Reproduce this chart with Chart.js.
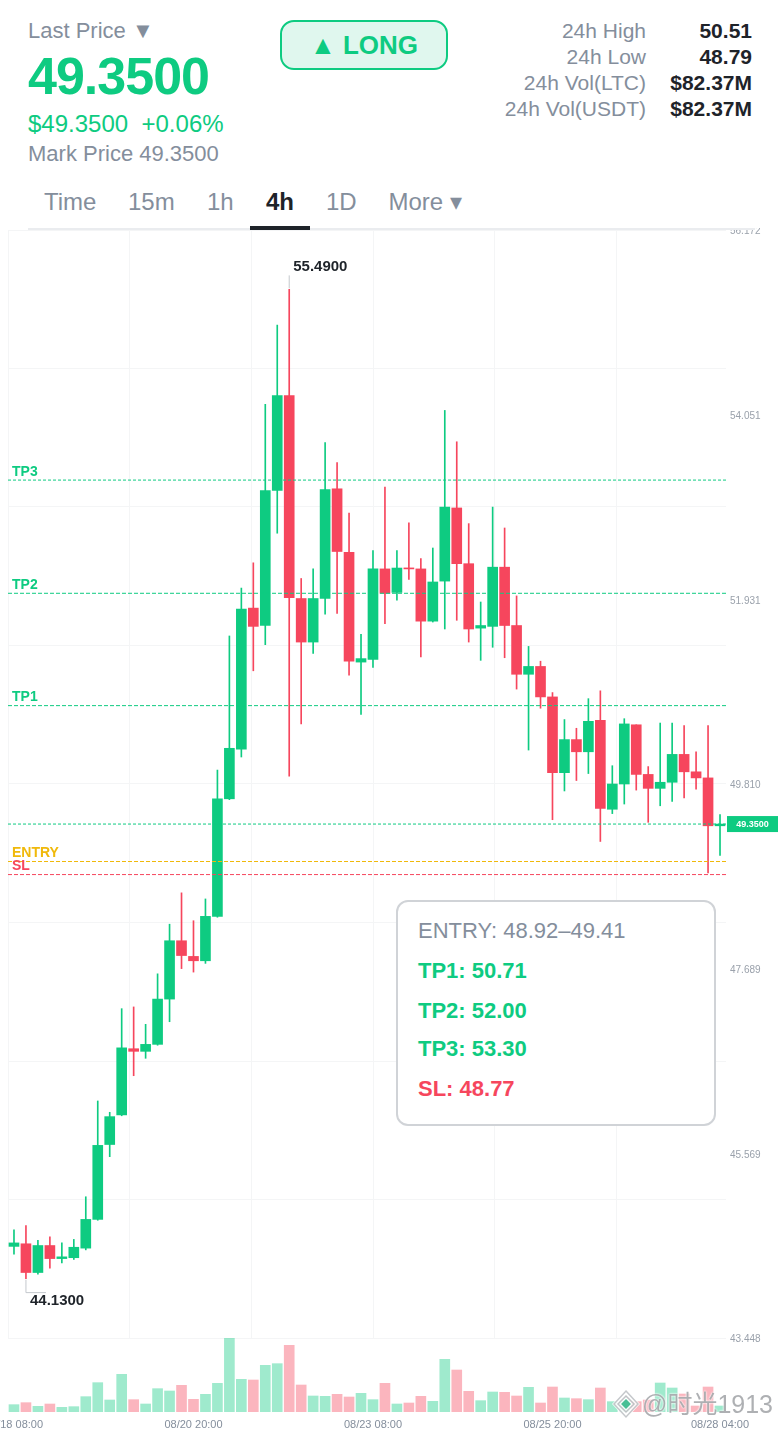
<!DOCTYPE html>
<html lang="en">
<head>
<meta charset="utf-8">
<title>49.3500 4h chart</title>
<script src="https://cdn.jsdelivr.net/npm/chart.js@4"></script>
<style>
  html, body { margin: 0; padding: 0; background: #fff; }
  body { position: relative; width: 780px; height: 1430px; overflow: hidden; font-family: "Liberation Sans", Arial, sans-serif; color: #848e9c; }
  .t { position: absolute; white-space: nowrap; line-height: 30px; height: 30px; }
  .r { text-align: right; }
  .g { color: #0ecb81; }
  .d { color: #1e2329; }
  .b { font-weight: 700; }
  canvas { position: absolute; left: 0; display: block; }
  #priceCanvas { top: 228px; }
  #volumeCanvas { top: 1338px; }
  #tabLine { position: absolute; left: 28px; top: 228px; width: 727px; height: 2px; background: #eaecef; z-index: 3; }
  #tabBar { position: absolute; left: 250px; top: 226px; width: 60px; height: 4px; background: #1e2329; z-index: 4; }
  #long { position: absolute; left: 280px; top: 20px; width: 164px; height: 46px; border: 2px solid #0ecb81; border-radius: 14px; background: #e0f7ee; color: #0ecb81; font-weight: 700; font-size: 26px; line-height: 46px; text-align: center; }
  #box { position: absolute; left: 396px; top: 900px; width: 316px; height: 222px; border: 2px solid #d0d3d7; border-radius: 12px; background: #fff; z-index: 5; font-size: 22px; }
  #box div { position: absolute; left: 20px; line-height: 30px; white-space: nowrap; }
  #wm { position: absolute; left: 611px; top: 1386px; width: 165px; height: 36px; z-index: 6; color: rgba(125,128,132,.62); font-size: 25px; line-height: 36px; white-space: nowrap; font-family: "Liberation Sans", "Noto Sans CJK SC", sans-serif; text-shadow: 0 0 2px #fff, 0 0 2px #fff; }
  #wm svg { position: absolute; left: 0; top: 2px; }
  #wm span { position: absolute; left: 31px; top: 0; }
</style>
</head>
<body>
  <div class="t" style="left:28px;top:16px;font-size:22px">Last Price ▼</div>
  <div class="t g b" style="left:28px;top:61px;font-size:52px;letter-spacing:-1px">49.3500</div>
  <div class="t g" style="left:28px;top:109px;font-size:24px">$49.3500</div>
  <div class="t g" style="left:141.5px;top:109px;font-size:24px">+0.06%</div>
  <div class="t" style="left:28px;top:138.5px;font-size:22px">Mark Price 49.3500</div>
  <div id="long">▲ LONG</div>

  <div class="t r" style="right:134px;top:16px;font-size:21px">24h High</div>
  <div class="t r" style="right:134px;top:42px;font-size:21px">24h Low</div>
  <div class="t r" style="right:134px;top:68px;font-size:21px">24h Vol(LTC)</div>
  <div class="t r" style="right:134px;top:94px;font-size:21px">24h Vol(USDT)</div>
  <div class="t r d b" style="right:28px;top:16px;font-size:21px">50.51</div>
  <div class="t r d b" style="right:28px;top:42px;font-size:21px">48.79</div>
  <div class="t r d b" style="right:28px;top:68px;font-size:21px">$82.37M</div>
  <div class="t r d b" style="right:28px;top:94px;font-size:21px">$82.37M</div>

  <div class="t" style="left:44px;top:187px;font-size:24px">Time</div>
  <div class="t" style="left:128px;top:187px;font-size:24px">15m</div>
  <div class="t" style="left:207px;top:187px;font-size:24px">1h</div>
  <div class="t d b" style="left:266px;top:187px;font-size:24px">4h</div>
  <div class="t" style="left:326px;top:187px;font-size:24px">1D</div>
  <div class="t" style="left:388.5px;top:187px;font-size:24px">More ▾</div>
  <div id="tabLine"></div>
  <div id="tabBar"></div>

  <canvas id="priceCanvas" width="780" height="1119"></canvas>
  <canvas id="volumeCanvas" width="780" height="92"></canvas>

  <div id="box">
    <div style="top:14px;color:#848e9c">ENTRY: 48.92–49.41</div>
    <div class="g b" style="top:54px">TP1: 50.71</div>
    <div class="g b" style="top:94px">TP2: 52.00</div>
    <div class="g b" style="top:132px">TP3: 53.30</div>
    <div class="b" style="top:172px;color:#f6465d">SL: 48.77</div>
  </div>

  <div id="wm">
    <svg width="30" height="32" viewBox="0 0 30 32">
      <path d="M15 1 L29 16 L15 31 L1 16 Z" fill="rgba(255,255,255,.9)"/>
      <path d="M15 3 L27 16 L15 29 L3 16 Z" fill="none" stroke="rgba(150,155,160,.55)" stroke-width="1.5"/>
      <path d="M15 8 L23 16 L15 24 L7 16 Z" fill="none" stroke="rgba(150,155,160,.6)" stroke-width="1.5"/>
      <rect x="11.5" y="12.5" width="7" height="7" transform="rotate(45 15 16)" fill="rgba(14,170,115,.75)"/>
    </svg>
    <span>@时光1913</span>
  </div>

<script>
const categories = [
  '08/18 08:00','08/18 12:00','08/18 16:00','08/18 20:00','08/19 00:00','08/19 04:00','08/19 08:00','08/19 12:00','08/19 16:00','08/19 20:00',
  '08/20 00:00','08/20 04:00','08/20 08:00','08/20 12:00','08/20 16:00','08/20 20:00','08/21 00:00','08/21 04:00','08/21 08:00','08/21 12:00',
  '08/21 16:00','08/21 20:00','08/22 00:00','08/22 04:00','08/22 08:00','08/22 12:00','08/22 16:00','08/22 20:00','08/23 00:00','08/23 04:00',
  '08/23 08:00','08/23 12:00','08/23 16:00','08/23 20:00','08/24 00:00','08/24 04:00','08/24 08:00','08/24 12:00','08/24 16:00','08/24 20:00',
  '08/25 00:00','08/25 04:00','08/25 08:00','08/25 12:00','08/25 16:00','08/25 20:00','08/26 00:00','08/26 04:00','08/26 08:00','08/26 12:00',
  '08/26 16:00','08/26 20:00','08/27 00:00','08/27 04:00','08/27 08:00','08/27 12:00','08/27 16:00','08/27 20:00','08/28 00:00','08/28 04:00'
];
const opens = [
  44.50,44.53,44.20,44.51,44.36,44.37,44.48,44.81,45.67,46.01,
  46.77,46.74,46.82,47.34,48.01,47.83,47.78,48.29,49.64,50.21,
  51.83,51.63,53.18,54.27,51.94,51.44,51.94,53.20,52.47,51.21,
  51.24,52.28,52.01,52.29,52.28,51.68,52.14,52.98,52.34,51.60,
  51.62,52.30,51.63,51.07,51.16,50.81,49.94,50.32,50.18,50.54,
  49.52,49.81,50.49,49.92,49.76,49.83,50.15,49.95,49.88,49.33
];
const highs = [
  44.69,44.74,44.57,44.61,44.54,44.58,45.07,46.17,46.04,47.23,
  47.25,47.05,47.63,48.20,48.56,48.24,48.49,49.97,51.51,52.06,
  52.35,54.17,55.08,55.49,52.17,52.28,53.73,53.50,52.92,51.53,
  52.49,53.22,52.49,52.81,52.40,52.52,54.10,53.74,52.80,51.90,
  52.99,52.75,51.97,51.39,51.22,50.86,50.55,50.45,50.79,50.88,
  50.02,50.56,50.49,50.01,50.51,50.51,50.48,50.18,50.48,49.46
];
const lows = [
  44.41,44.13,44.18,44.25,44.31,44.35,44.46,44.80,45.53,46.00,
  46.46,46.66,46.81,47.08,47.69,47.65,47.75,48.28,49.63,50.12,
  51.11,51.41,52.69,49.90,50.50,51.31,51.76,51.77,51.06,50.61,
  51.15,51.65,51.92,52.16,51.27,51.67,51.59,51.69,51.44,51.23,
  51.38,51.26,50.90,50.20,50.68,49.40,49.73,49.85,49.93,49.15,
  49.47,49.58,49.74,49.37,49.56,49.61,49.65,49.75,48.79,48.99
];
const closes = [
  44.54,44.20,44.51,44.36,44.38,44.49,44.81,45.66,45.99,46.78,
  46.74,46.82,47.34,48.01,47.84,47.78,48.29,49.64,50.22,51.82,
  51.62,53.18,54.27,51.95,51.44,51.94,53.19,52.48,51.22,51.25,
  52.28,52.00,52.29,52.28,51.68,52.13,52.99,52.34,51.59,51.63,
  52.30,51.63,51.07,51.16,50.81,49.94,50.32,50.18,50.53,49.53,
  49.81,50.50,49.92,49.76,49.83,50.15,49.95,49.88,49.33,49.35
];
const volumes = [
  22,28,17,24,14,16,46,88,36,113,
  37,24,70,63,80,38,53,86,222,98,
  96,140,145,200,81,48,47,53,45,56,
  37,86,24,27,47,32,158,126,62,34,
  60,59,48,74,27,75,42,40,37,72,
  31,34,31,36,87,72,54,18,75,18
];
const priceTicks = [43.448,45.569,47.689,49.810,51.931,54.051,56.172];
const gridLevels = [43.448,45.0385,46.629,48.2195,49.81,51.4005,52.991,54.5815,56.172];
const timeGrid = [0,1,2,3,4,5];
const xTickLabels = ['08/18 08:00','08/20 20:00','08/23 08:00','08/25 20:00','08/28 04:00'];
const priceMin = 43.448, priceMax = 56.172, volumeMax = 222;
const levels = [
  {label:'TP3',   value:53.30, color:'#0ecb81', dash:[3,2]},
  {label:'TP2',   value:52.00, color:'#0ecb81', dash:[4,2]},
  {label:'TP1',   value:50.71, color:'#0ecb81', dash:[4,2]},
  {label:'ENTRY', value:48.92, color:'#f0b90b', dash:[4,2]},
  {label:'SL',    value:48.77, color:'#f6465d', dash:[4,2]},
  {label:'',      value:49.35, color:'#0ecb81', dash:[3,2]}
];
const lastPrice = 49.35, highPrice = 55.49, lowPrice = 44.13;

const UP = '#0ecb81', DOWN = '#f6465d';
const GRID = '#f4f5f6';
const isUp = i => closes[i] >= opens[i];
Chart.defaults.font.family = '"Liberation Sans", Arial, sans-serif';

function fixBox(size) {
  return s => {
    s.paddingLeft = s.paddingRight = s.paddingTop = s.paddingBottom = 0;
    if (s.isHorizontal()) s.height = size; else s.width = size;
  };
}

const overlay = {
  id: 'overlay',
  afterDatasetsDraw(chart) {
    const {ctx, chartArea: a, scales: {x, y}} = chart;
    ctx.save();
    levels.forEach(l => {
      const py = y.getPixelForValue(l.value);
      ctx.beginPath();
      ctx.setLineDash(l.dash);
      ctx.lineWidth = 1;
      ctx.strokeStyle = l.color;
      ctx.moveTo(a.left, py);
      ctx.lineTo(a.right, py);
      ctx.stroke();
      if (l.label) {
        ctx.setLineDash([]);
        ctx.fillStyle = l.color;
        ctx.font = '700 14px "Liberation Sans", Arial, sans-serif';
        ctx.textAlign = 'left';
        ctx.textBaseline = 'middle';
        ctx.fillText(l.label, a.left + 4, py - 8);
      }
    });
    ctx.setLineDash([]);

    // last-price tag
    const ly = y.getPixelForValue(lastPrice);
    ctx.fillStyle = UP;
    ctx.fillRect(a.right + 1, ly - 8, 51, 16);
    ctx.fillStyle = '#fff';
    ctx.font = '700 9px "Liberation Sans", Arial, sans-serif';
    ctx.textAlign = 'center';
    ctx.textBaseline = 'middle';
    ctx.fillText(lastPrice.toFixed(4), a.right + 26.5, ly + 0.5);

    // high / low callouts
    const hi = highs.indexOf(highPrice), lo = lows.indexOf(lowPrice);
    const hx = x.getPixelForValue(hi), hy = y.getPixelForValue(highPrice);
    const lx = x.getPixelForValue(lo), ly2 = y.getPixelForValue(lowPrice);
    ctx.strokeStyle = '#c4c8cd';
    ctx.lineWidth = 1;
    ctx.beginPath();
    ctx.moveTo(hx, hy - 1); ctx.lineTo(hx, hy - 14);
    ctx.moveTo(lx, ly2 + 1); ctx.lineTo(lx, ly2 + 14); ctx.lineTo(lx + 20, ly2 + 14);
    ctx.stroke();
    ctx.fillStyle = '#1e2329';
    ctx.font = '700 15px "Liberation Sans", Arial, sans-serif';
    ctx.textAlign = 'left';
    ctx.fillText(highPrice.toFixed(4), hx + 4, hy - 23);
    ctx.fillText(lowPrice.toFixed(4), lx + 4, ly2 + 22);
    ctx.restore();
  }
};

new Chart(document.getElementById('priceCanvas'), {
  type: 'bar',
  plugins: [overlay],
  data: {
    labels: categories,
    datasets: [
      {
        label: 'Body',
        data: categories.map((_, i) => [opens[i], closes[i]]),
        backgroundColor: categories.map((_, i) => isUp(i) ? UP : DOWN),
        barThickness: 10, minBarLength: 1, grouped: false, order: 1, xAxisID: 'x', yAxisID: 'y'
      },
      {
        label: 'Wick',
        data: categories.map((_, i) => [lows[i], highs[i]]),
        backgroundColor: categories.map((_, i) => isUp(i) ? UP : DOWN),
        barThickness: 1, grouped: false, order: 2, xAxisID: 'x', yAxisID: 'y'
      }
    ]
  },
  options: {
    responsive: false,
    animation: false,
    events: [],
    layout: {padding: {top: 2, bottom: 9, left: 0, right: 0}},
    plugins: {legend: {display: false}, tooltip: {enabled: false}},
    scales: {
      x: {display: false, offset: true},
      xGrid: {
        axis: 'x', type: 'linear', position: 'top', min: 0, max: 5.9, offset: false,
        afterBuildTicks: s => { s.ticks = timeGrid.map(value => ({value})); },
        ticks: {display: false, autoSkip: false},
        grid: {color: GRID, drawTicks: false, lineWidth: 1, offset: false},
        border: {display: false},
        afterFit: fixBox(0)
      },
      y: {
        position: 'left', min: priceMin, max: priceMax,
        afterBuildTicks: s => { s.ticks = gridLevels.map(value => ({value})); },
        ticks: {display: false, autoSkip: false},
        grid: {color: GRID, drawTicks: false, lineWidth: 1},
        border: {display: false},
        afterFit: fixBox(8)
      },
      yLabels: {
        axis: 'y', position: 'right', min: priceMin, max: priceMax,
        afterBuildTicks: s => { s.ticks = priceTicks.map(value => ({value})); },
        ticks: {autoSkip: false, padding: 4, labelOffset: 1.5, color: '#9aa1ab', font: {size: 10}, callback: v => v.toFixed(3)},
        grid: {display: false, drawTicks: false},
        border: {display: false},
        afterFit: fixBox(54)
      }
    }
  }
});

new Chart(document.getElementById('volumeCanvas'), {
  type: 'bar',
  data: {
    labels: categories,
    datasets: [{
      label: 'Volume',
      data: volumes,
      backgroundColor: categories.map((_, i) => isUp(i) ? 'rgba(14,203,129,0.4)' : 'rgba(246,70,93,0.4)'),
      barThickness: 10
    }]
  },
  options: {
    responsive: false,
    animation: false,
    events: [],
    layout: {padding: {left: 8, right: 54, top: 0, bottom: 0}},
    plugins: {legend: {display: false}, tooltip: {enabled: false}},
    scales: {
      x: {
        offset: true,
        grid: {display: false, drawTicks: false},
        border: {display: false},
        ticks: {
          autoSkip: false, maxRotation: 0, padding: 6, color: '#848e9c', font: {size: 11},
          callback(v) { const s = this.getLabelForValue(v); return xTickLabels.includes(s) ? s : ''; }
        },
        afterFit: fixBox(18)
      },
      y: {display: false, min: 0, max: volumeMax}
    }
  }
});
</script>
</body>
</html>
